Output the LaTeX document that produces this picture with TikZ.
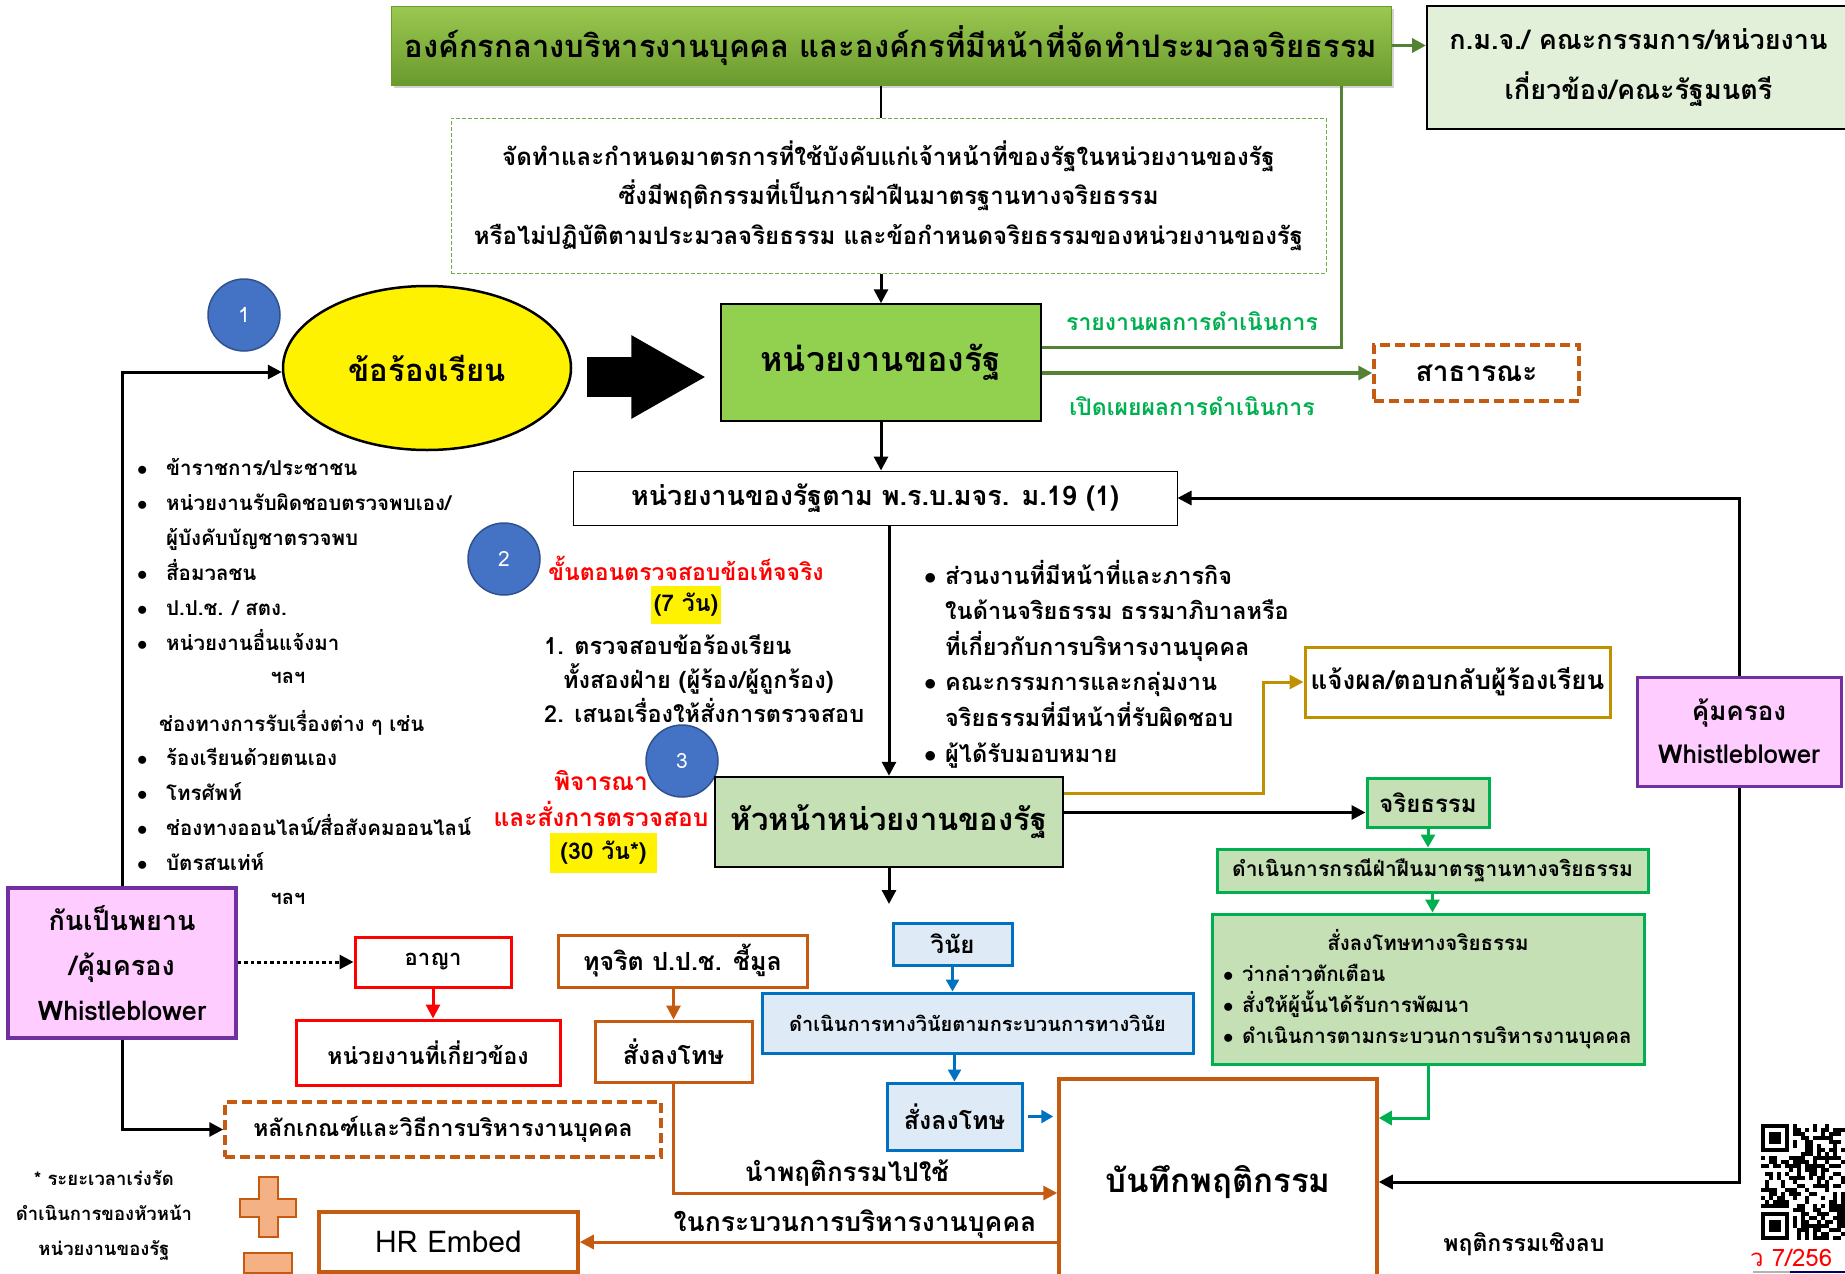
\documentclass[tikz,border=0pt]{standalone}
\usepackage{fontspec}
\setmainfont[Script=Thai]{Loma}
\usepackage{tikz}
\usetikzlibrary{arrows.meta,shapes.geometric,shadows}
\newcommand{\fz}[2]{\fontsize{#1}{#2}\selectfont\bfseries}
\newcommand{\bul}[1]{\makebox[#1][l]{$\bullet$}}
\definecolor{orgtop}{HTML}{9BC850}
\definecolor{orgbot}{HTML}{6A9A2E}
\definecolor{lgreen}{HTML}{E2F0D9}
\definecolor{ugreen}{HTML}{92D050}
\definecolor{hgreen}{HTML}{C5E0B4}
\definecolor{egreen}{HTML}{00B050}
\definecolor{dgreen}{HTML}{548235}
\definecolor{rgreen}{HTML}{70AD47}
\definecolor{orng}{HTML}{C55A11}
\definecolor{pfill}{HTML}{F4B183}
\definecolor{gold}{HTML}{BF9000}
\definecolor{wblue}{HTML}{0070C0}
\definecolor{wfill}{HTML}{DEEBF7}
\definecolor{pink}{HTML}{FFCCFF}
\definecolor{purp}{HTML}{7030A0}
\definecolor{cblue}{HTML}{4472C4}
\definecolor{cline}{HTML}{2F528F}

\begin{document}
\begin{tikzpicture}[x=1pt,y=-1pt,>={Triangle[length=14pt,width=14pt]},
    every node/.style={align=center,inner sep=2pt},
    arr/.style={line width=3pt,->},
    garr/.style={line width=3.5pt,draw=dgreen,-{Triangle[length=14pt,width=14pt,fill=dgreen]}},
    earr/.style={line width=3pt,draw=egreen,-{Triangle[length=13pt,width=14pt,fill=egreen]}},
    oarr/.style={line width=3pt,draw=orng,-{Triangle[length=14pt,width=14pt,fill=orng]}},
    barr/.style={line width=2.5pt,draw=wblue,-{Triangle[length=12pt,width=13pt,fill=wblue]}}]
  \tikzstyle{box}=[draw,rectangle,line width=2pt]
  \tikzstyle{obox}=[box,draw=orng,line width=3.5pt]
  \tikzstyle{num}=[circle,minimum size=72pt,fill=cblue,draw=cline,line width=1.5pt,
    text=white,font=\fontsize{21}{24}\selectfont]
  \useasboundingbox (0,0) rectangle (1845,1274);

  % top level
  \node[box,draw=orgbot,line width=1pt,top color=orgtop,bottom color=orgbot,
    drop shadow={opacity=0.35},minimum width=1000pt,minimum height=79pt,
    font=\fz{31}{36}] (org) at (891,45.5)
    {องค์กรกลางบริหารงานบุคคล และองค์กรที่มีหน้าที่จัดทำประมวลจริยธรรม};
  \node[box,fill=lgreen,minimum width=423pt,minimum height=123pt,font=\fz{27}{50}]
    (kmj) at (1638.5,67.5) {ก.ม.จ./ คณะกรรมการ/หน่วยงาน\\เกี่ยวข้อง/คณะรัฐมนตรี};
  \node[draw=rgreen,line width=1pt,dash pattern=on 4pt off 2pt,minimum width=875pt,
    minimum height=155pt,font=\fz{24}{39.5}] (rule) at (888.5,195.5)
    {จัดทำและกำหนดมาตรการที่ใช้บังคับแก่เจ้าหน้าที่ของรัฐในหน่วยงานของรัฐ\\
     ซึ่งมีพฤติกรรมที่เป็นการฝ่าฝืนมาตรฐานทางจริยธรรม\\
     หรือไม่ปฏิบัติตามประมวลจริยธรรม และข้อกำหนดจริยธรรมของหน่วยงานของรัฐ};

  % complaint and agency
  \node[num] (c1) at (244,315) {1};
  \node[ellipse,draw,line width=2.5pt,fill=yellow,minimum width=288pt,
    minimum height=164pt,font=\fz{31}{36}] (cmp) at (427,368) {ข้อร้องเรียน};
  \node[box,line width=1.5pt,fill=ugreen,minimum width=320pt,minimum height=117pt,
    font=\fz{34}{40}] (unit) at (881,362.5) {หน่วยงานของรัฐ};
  \node[obox,dash pattern=on 10pt off 5pt,minimum width=205pt,minimum height=56pt,
    font=\fz{28}{32}] (pub) at (1476.5,373) {สาธารณะ};
  \node[text=egreen,font=\fz{23}{28}] (rep) at (1192,321) {รายงานผลการดำเนินการ};
  \node[text=egreen,font=\fz{23}{28}] (dis) at (1192,406) {เปิดเผยผลการดำเนินการ};
  \node[box,line width=1pt,minimum width=604pt,minimum height=54pt,font=\fz{27}{32}]
    (m19) at (875,498) {หน่วยงานของรัฐตาม พ.ร.บ.มจร. ม.19 (1)};

  % sources of complaints
  \node[anchor=west,align=left,inner sep=0pt,font=\fz{20.5}{35}] (srcA) at (137,554.5)
    {\bul{29pt}ข้าราชการ/ประชาชน\\
     \bul{29pt}หน่วยงานรับผิดชอบตรวจพบเอง/\\
     \hspace*{29pt}ผู้บังคับบัญชาตรวจพบ\\
     \bul{29pt}สื่อมวลชน\\
     \bul{29pt}ป.ป.ช. / สตง.\\
     \bul{29pt}หน่วยงานอื่นแจ้งมา};
  \node[font=\fz{20}{24}] (etc1) at (288,678) {ฯลฯ};
  \node[anchor=west,inner sep=0pt,font=\fz{20.5}{24}] (chan) at (159,723)
    {ช่องทางการรับเรื่องต่าง ๆ เช่น};
  \node[anchor=west,align=left,inner sep=0pt,font=\fz{20.5}{35}] (srcB) at (137,809.5)
    {\bul{29pt}ร้องเรียนด้วยตนเอง\\
     \bul{29pt}โทรศัพท์\\
     \bul{29pt}ช่องทางออนไลน์/สื่อสังคมออนไลน์\\
     \bul{29pt}บัตรสนเท่ห์};
  \node[font=\fz{20}{24}] (etc2) at (288,899) {ฯลฯ};

  % steps 2 and 3
  \node[num] (c2) at (504,559) {2};
  \node[text=red,font=\fz{23}{28}] (s2) at (686,568) {ขั้นตอนตรวจสอบข้อเท็จจริง};
  \node[fill=yellow,minimum width=70pt,minimum height=38pt,inner sep=0pt,font=\fz{23}{28}]
    (d7) at (686,605) {(7 วัน)};
  \node[anchor=west,align=left,inner sep=0pt,font=\fz{23.5}{34}] (s2t) at (544,679)
    {1. ตรวจสอบข้อร้องเรียน\\
     \hspace*{19pt}ทั้งสองฝ่าย (ผู้ร้อง/ผู้ถูกร้อง)\\
     2. เสนอเรื่องให้สั่งการตรวจสอบ};
  \node[num] (c3) at (682,761) {3};
  \node[text=red,font=\fz{24.5}{36}] (s3) at (601,799) {พิจารณา\\และสั่งการตรวจสอบ};
  \node[fill=yellow,minimum width=107pt,minimum height=40pt,inner sep=0pt,font=\fz{23}{28}]
    (d30) at (603.5,853) {(30 วัน*)};

  % head of agency
  \node[box,line width=2.5pt,fill=hgreen,minimum width=348pt,minimum height=90pt,
    font=\fz{31}{36}] (hua) at (889,822) {หัวหน้าหน่วยงานของรัฐ};
  \node[anchor=west,align=left,inner sep=0pt,font=\fz{23.5}{35.6}] (who) at (924,664)
    {\bul{21pt}ส่วนงานที่มีหน้าที่และภารกิจ\\
     \hspace*{21pt}ในด้านจริยธรรม ธรรมาภิบาลหรือ\\
     \hspace*{21pt}ที่เกี่ยวกับการบริหารงานบุคคล\\
     \bul{21pt}คณะกรรมการและกลุ่มงาน\\
     \hspace*{21pt}จริยธรรมที่มีหน้าที่รับผิดชอบ\\
     \bul{21pt}ผู้ได้รับมอบหมาย};
  \node[box,draw=gold,line width=3pt,minimum width=305pt,minimum height=70pt,
    font=\fz{26}{30}] (notify) at (1457.5,682) {แจ้งผล/ตอบกลับผู้ร้องเรียน};
  \node[box,draw=purp,fill=pink,line width=3pt,minimum width=204pt,minimum height=109pt,
    font=\fz{26}{43}] (prot) at (1739,731.5) {คุ้มครอง\\Whistleblower};

  % ethics branch
  \node[box,draw=egreen,fill=hgreen,line width=3pt,minimum width=122pt,minimum height=49pt,
    font=\fz{24}{28}] (eth) at (1428,802.5) {จริยธรรม};
  \node[box,draw=egreen,fill=hgreen,line width=3pt,minimum width=431pt,minimum height=43pt,
    font=\fz{21}{24}] (ethproc) at (1432.5,870.5) {ดำเนินการกรณีฝ่าฝืนมาตรฐานทางจริยธรรม};
  \node[box,draw=egreen,fill=hgreen,line width=3pt,minimum width=432pt,minimum height=150pt,
    text width=410pt,align=left,font=\fz{20.5}{31}] (ethpen) at (1428,989)
    {\makebox[410pt]{สั่งลงโทษทางจริยธรรม}\\
     \bul{19pt}ว่ากล่าวตักเตือน\\
     \bul{19pt}สั่งให้ผู้นั้นได้รับการพัฒนา\\
     \bul{19pt}ดำเนินการตามกระบวนการบริหารงานบุคคล};

  % discipline branch
  \coordinate (huaout) at (889,904);
  \node[box,draw=wblue,fill=wfill,line width=3pt,minimum width=119pt,minimum height=42pt,
    font=\fz{24}{28}] (wn) at (952.5,944) {วินัย};
  \node[box,draw=wblue,fill=wfill,line width=3pt,minimum width=431pt,minimum height=60pt,
    font=\fz{20}{24}] (wnproc) at (977.5,1023) {ดำเนินการทางวินัยตามกระบวนการทางวินัย};
  \node[box,draw=wblue,fill=wfill,line width=3pt,minimum width=135pt,minimum height=67pt,
    font=\fz{25}{30}] (wnpen) at (954.5,1116.5) {สั่งลงโทษ};
  \node[obox,minimum width=318pt,minimum height=206pt,font=\fz{33}{38}]
    (rec) at (1218,1182) {บันทึกพฤติกรรม};
  \node[font=\fz{23}{28}] (neg) at (1524,1244) {พฤติกรรมเชิงลบ};

  % witness, criminal, corruption
  \node[box,draw=purp,fill=pink,line width=3.5pt,minimum width=228pt,minimum height=150pt,
    font=\fz{27}{45}] (pw) at (122,963) {กันเป็นพยาน\\/คุ้มครอง\\Whistleblower};
  \node[box,draw=red,line width=3pt,minimum width=156pt,minimum height=50pt,
    font=\fz{22}{26}] (crim) at (433,962) {อาญา};
  \node[box,draw=red,line width=3pt,minimum width=264pt,minimum height=65pt,
    font=\fz{23}{28}] (rel) at (428,1052.5) {หน่วยงานที่เกี่ยวข้อง};
  \node[obox,line width=3pt,minimum width=249pt,minimum height=52pt,font=\fz{25}{30}]
    (cor) at (682.5,961) {ทุจริต ป.ป.ช. ชี้มูล};
  \node[obox,line width=3pt,minimum width=157pt,minimum height=61pt,font=\fz{25}{30}]
    (opn) at (673.5,1051.5) {สั่งลงโทษ};
  \node[obox,dash pattern=on 10pt off 5pt,minimum width=436pt,minimum height=55pt,
    font=\fz{23}{28}] (crit) at (443,1129.5) {หลักเกณฑ์และวิธีการบริหารงานบุคคล};
  \node[obox,minimum width=259pt,minimum height=60pt,font=\fontsize{30}{34}\selectfont]
    (hr) at (448.5,1242) {HR Embed};
  \node[font=\fz{26}{30}] (use) at (847,1173) {นำพฤติกรรมไปใช้};
  \node[font=\fz{26.5}{30}] (inhr) at (855,1224) {ในกระบวนการบริหารงานบุคคล};
  \node[font=\fz{18.5}{35}] (note) at (104,1215)
    {* ระยะเวลาเร่งรัด\\ดำเนินการของหัวหน้า\\หน่วยงานของรัฐ};

  % plus and minus
  \draw[fill=pfill,draw=orng,line width=1.5pt] (259,1177) -- (278,1177) -- (278,1199)
    -- (296,1199) -- (296,1217) -- (278,1217) -- (278,1237) -- (259,1237) -- (259,1217)
    -- (240,1217) -- (240,1199) -- (259,1199) -- cycle;
  \draw[fill=pfill,draw=orng,line width=1.5pt] (244,1253) rectangle (292,1273);

  % connectors
  \coordinate (ba) at (0,377);
  \coordinate (ethin) at ([yshift=-10pt]eth.west);
  \draw[garr] (org.east) -- (kmj.west |- org.east);
  \draw[line width=2.5pt] (unit.north |- org.south) -- (unit.north |- rule.north);
  \draw[arr] (unit.north |- rule.south) -- (unit.north);
  \draw[line width=3.5pt,dgreen] ([yshift=15pt]unit.east) -| ([xshift=-50pt]org.south east);
  \draw[garr] (unit.east |- pub.west) -- (pub.west);
  \draw[line width=40pt,-{Triangle[length=75pt,width=78pt]},shorten <=15pt,shorten >=14pt]
    (cmp.east |- ba) -- (unit.west |- ba);
  \draw[arr] (pw.north) |- ([yshift=-4pt]cmp.west);
  \draw[arr] (pw.south) |- (crit.west);
  \draw[arr,dash pattern=on 3.5pt off 3pt] (pw.east |- crim.west) -- (crim.west);
  \draw[line width=3pt,draw=red,-{Triangle[length=14pt,width=14pt,fill=red]}]
    (crim.south) -- (crim.south |- rel.north);
  \draw[oarr] (opn.north |- cor.south) -- (opn.north);
  \draw[oarr] (opn.south) |- ([yshift=-11pt]rec.west);
  \draw[oarr,{Triangle[length=14pt,width=14pt,fill=orng]}-] (hr.east) -- (rec.west |- hr.east);
  \draw[arr] (unit.south) -- (unit.south |- m19.north);
  \draw[arr] (hua.north |- m19.south) -- (hua.north);
  \draw[arr] (prot.north) |- (m19.east);
  \draw[arr] (prot.south) |- (rec.east);
  \draw[line width=3pt,draw=gold,-{Triangle[length=14pt,width=14pt,fill=gold]}]
    ([yshift=29pt]hua.east) -| ([xshift=-40pt]notify.west) -- (notify.west);
  \draw[arr] (hua.east |- ethin) -- (ethin);
  \draw[earr] (eth.south) -- (eth.south |- ethproc.north);
  \draw[earr] (ethproc.south) -- (ethproc.south |- ethpen.north);
  \draw[earr] (ethpen.south) |- ([yshift=64pt]rec.east);
  \draw[arr] (hua.south) -- (huaout);
  \draw[barr] (wn.south) -- (wn.south |- wnproc.north);
  \draw[barr] (wnpen.north |- wnproc.south) -- (wnpen.north);
  \draw[barr,shorten <=4pt,shorten >=4pt] (wnpen.east) -- (rec.west |- wnpen.east);

  % qr code and page mark
  \begin{scope}
    \clip (1755,1120) rectangle (1845,1245);
    \pgfmathsetseed{7}
    \foreach \i in {0,...,28}{\foreach \j in {0,...,28}{%
      \pgfmathrandominteger{\q}{0}{1}%
      \ifnum\q=1 \fill (1761+4*\i,1124+4*\j) rectangle ++(4,4);\fi}}
    \foreach \a/\b in {0/0,22/0,0/22}{
      \fill[white] (1757+4*\a,1120+4*\b) rectangle ++(36,36);
      \fill (1761+4*\a,1124+4*\b) rectangle ++(28,28);
      \fill[white] (1765+4*\a,1128+4*\b) rectangle ++(20,20);
      \fill (1769+4*\a,1132+4*\b) rectangle ++(12,12);}
  \end{scope}
  \node[anchor=west,text=red,inner sep=0pt,font=\fontsize{24}{28}\selectfont]
    (page) at (1750,1258) {ว 7/256};
  \draw[line width=2pt,gray!60] (1753,1272) -- (1790,1272);
  \draw[line width=2pt,blue!40!black] (1790,1272) -- (1845,1272);
\end{tikzpicture}
\end{document}
